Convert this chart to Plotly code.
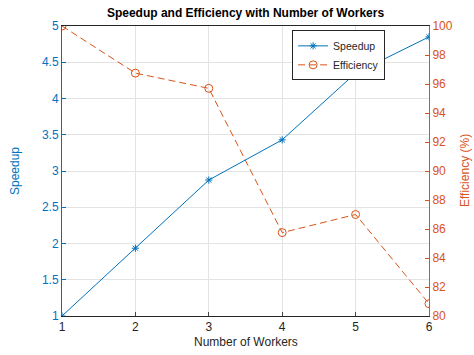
import plotly.graph_objects as go

workers = [1, 2, 3, 4, 5, 6]
speedup = [1.0, 1.935, 2.875, 3.43, 4.35, 4.85]
efficiency = [100.0, 96.75, 95.7, 85.75, 87.0, 80.85]

blue = "#0072BD"
orange = "#D95319"
dark = "#262626"
font = "Liberation Sans, Arial, sans-serif"

fig = go.Figure()
fig.add_trace(go.Scatter(
    x=workers, y=speedup, name="Speedup", mode="lines+markers",
    line=dict(color=blue, width=1),
    marker=dict(symbol="asterisk-open", size=6, color=blue, line=dict(color=blue, width=1)),
    yaxis="y"))
fig.add_trace(go.Scatter(
    x=workers, y=efficiency, name="Efficiency", mode="lines+markers",
    line=dict(color=orange, width=1, dash="7px,4px"),
    marker=dict(symbol="circle-open", size=8, color=orange, line=dict(color=orange, width=1)),
    yaxis="y2"))

fig.update_layout(
    width=474, height=355,
    margin=dict(l=62, r=45, t=26, b=39, autoexpand=False),
    paper_bgcolor="white", plot_bgcolor="white",
    font=dict(family=font, size=12, color=dark),
    title=dict(text="<b>Speedup and Efficiency with Number of Workers</b>",
               x=0.5, xref="paper", xanchor="center", y=1 - 13/355, yanchor="middle",
               font=dict(family=font, size=12, color="black")),
    xaxis=dict(range=[1, 6], dtick=1, tickmode="linear", ticks="inside", ticklen=4,
               showgrid=True, gridcolor="#e3e3e3", gridwidth=1,
               showline=True, linecolor=dark, linewidth=1, mirror=True,
               zeroline=False, automargin=False,
               tickfont=dict(size=12, color=dark)),
    yaxis=dict(range=[1, 5], dtick=0.5, tickmode="linear", ticks="inside", ticklen=4,
               tickcolor=blue, automargin=False,
               showgrid=True, gridcolor="#e3e3e3", gridwidth=1,
               showline=True, linecolor=blue, linewidth=1, zeroline=False,
               tickfont=dict(size=12, color=blue)),
    yaxis2=dict(range=[80, 100], dtick=2, tickmode="linear", ticks="inside", ticklen=4,
                tickcolor=orange, overlaying="y", side="right", automargin=False,
                showgrid=False, showline=True, linecolor=orange, linewidth=1, zeroline=False,
                tickfont=dict(size=12, color=orange)),
    legend=dict(x=0.627, y=0.985, xanchor="left", yanchor="top",
                bgcolor="white", bordercolor=dark, borderwidth=1,
                font=dict(size=10.5, color=dark), tracegroupgap=0, itemwidth=30),
    showlegend=True,
    annotations=[
        dict(text="Number of Workers", xref="paper", yref="paper",
             x=0.5, y=-26/290, xanchor="center", yanchor="middle", showarrow=False,
             font=dict(size=12, color=dark)),
        dict(text="Speedup", xref="paper", yref="paper",
             x=-47/367, y=0.5, xanchor="center", yanchor="middle", showarrow=False,
             textangle=-90, font=dict(size=12, color=blue)),
        dict(text="Efficiency (%)", xref="paper", yref="paper",
             x=1 + 36/367, y=0.5, xanchor="center", yanchor="middle", showarrow=False,
             textangle=-90, font=dict(size=12, color=orange)),
    ],
)

fig.write_html(
    "out.html",
    config={"displayModeBar": False},
    post_script="document.body.style.margin='0';document.body.style.padding='0';"
                "document.body.style.overflow='hidden';",
)
